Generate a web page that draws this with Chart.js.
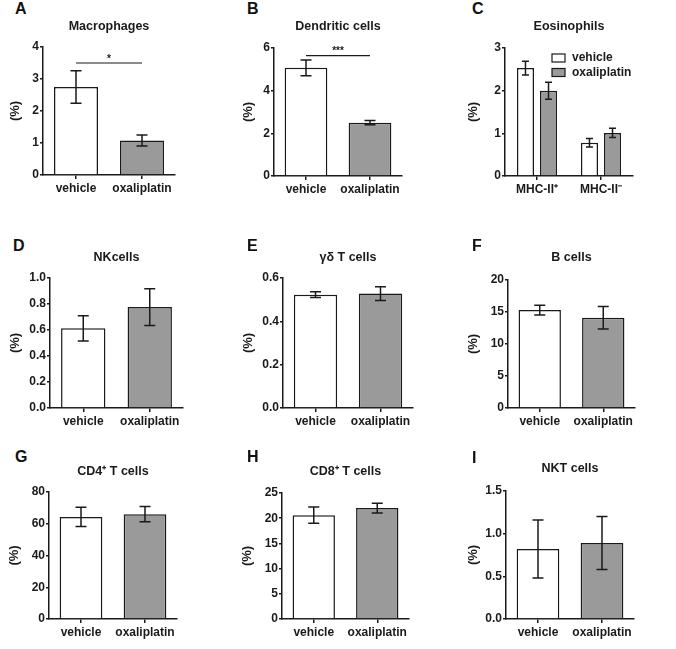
<!DOCTYPE html>
<html lang="en">
<head>
  <meta charset="UTF-8">
  <title>Immune cell populations</title>
  <script src="https://cdn.jsdelivr.net/npm/chart.js"></script>
  <style>
    body {
      margin: 0;
      background: #fff;
      font-family: 'Liberation Sans', Arial, sans-serif;
    }

    #page {
      position: relative;
      width: 676px;
      height: 649px;
      overflow: hidden;
    }

    #page canvas {
      position: absolute;
    }

    .letter {
      position: absolute;
      font-size: 16px;
      line-height: 16px;
      font-weight: bold;
      color: #111;
    }
  </style>
</head>
<body>

<div id="page"></div>

<script>
  // values (mean and error, in %)
  var groups = ['vehicle', 'oxaliplatin'];

  var macrophages = [2.75, 1.08];
  var macrophagesErr = [0.51, 0.17];

  var dendritic = [5.07, 2.50];
  var dendriticErr = [0.37, 0.10];

  var eosCategories = ['MHC-II\u207A', 'MHC-II\u207B'];
  var eosVehicle = [2.53, 0.78];
  var eosVehicleErr = [0.16, 0.10];
  var eosOxali = [2.00, 1.01];
  var eosOxaliErr = [0.20, 0.11];

  var nkCells = [0.613, 0.776];
  var nkCellsErr = [0.097, 0.142];

  var gdTCells = [0.523, 0.528];
  var gdTCellsErr = [0.013, 0.032];

  var bCells = [15.3, 14.1];
  var bCellsErr = [0.76, 1.75];

  var cd4Cells = [64.3, 66.0];
  var cd4CellsErr = [6.1, 4.8];

  var cd8Cells = [20.6, 22.0];
  var cd8CellsErr = [1.6, 0.95];

  var nktCells = [0.82, 0.89];
  var nktCellsErr = [0.34, 0.31];

  // y axis ticks per panel A..I
  var yMax = [4, 6, 3, 1.0, 0.6, 20, 80, 25, 1.5];
  var yStep = [1, 2, 1, 0.2, 0.2, 5, 20, 5, 0.5];
  var yDecimals = [0, 0, 0, 1, 1, 0, 0, 0, 1];

  var titles = ['Macrophages', 'Dendritic cells', 'Eosinophils', 'NKcells', '\u03B3\u03B4 T cells',
                'B cells', 'CD4\u207A T cells', 'CD8\u207A T cells', 'NKT cells'];

  var WHITE = '#ffffff';
  var GREY = '#9a9a9a';
  var INK = '#1a1a1a';

  Chart.defaults.font.family = "'Liberation Sans', Arial, sans-serif";
  Chart.defaults.font.weight = 'bold';
  Chart.defaults.font.size = 12;
  Chart.defaults.color = INK;

  // mean +/- error whiskers, drawn through the y scale
  var errorBars = {
    id: 'errorBars',
    afterDatasetsDraw: function(chart, args, opts) {
      var ctx = chart.ctx;
      var y = chart.scales.y;
      var cap = opts.cap || 6;
      chart.data.datasets.forEach(function(ds, i) {
        var meta = chart.getDatasetMeta(i);
        meta.data.forEach(function(bar, j) {
          var m = ds.data[j], e = ds.errors[j];
          var top = y.getPixelForValue(m + e);
          var bot = y.getPixelForValue(m - e);
          ctx.save();
          ctx.strokeStyle = INK;
          ctx.lineWidth = 1.5;
          ctx.beginPath();
          ctx.moveTo(bar.x, top); ctx.lineTo(bar.x, bot);
          ctx.moveTo(bar.x - cap, top); ctx.lineTo(bar.x + cap, top);
          ctx.moveTo(bar.x - cap, bot); ctx.lineTo(bar.x + cap, bot);
          ctx.stroke();
          ctx.restore();
        });
      });
    }
  };

  // significance line between the two groups
  var signif = {
    id: 'signif',
    afterDatasetsDraw: function(chart, args, opts) {
      if (!opts.text) return;
      var ctx = chart.ctx;
      var x1 = chart.scales.x.getPixelForValue(0);
      var x2 = chart.scales.x.getPixelForValue(1);
      var yy = chart.scales.y.getPixelForValue(opts.value);
      ctx.save();
      ctx.strokeStyle = INK;
      ctx.lineWidth = 1.2;
      ctx.beginPath();
      ctx.moveTo(x1, yy); ctx.lineTo(x2, yy);
      ctx.stroke();
      ctx.fillStyle = INK;
      ctx.font = "bold 10px 'Liberation Sans', Arial, sans-serif";
      ctx.textAlign = 'center';
      ctx.textBaseline = 'middle';
      ctx.fillText(opts.text, (x1 + x2) / 2, yy - 4);
      ctx.restore();
    }
  };

  // small legend inside the plot (panel C)
  var boxLegend = {
    id: 'boxLegend',
    afterDraw: function(chart, args, opts) {
      if (!opts.show) return;
      var ctx = chart.ctx;
      var a = chart.chartArea;
      ctx.save();
      chart.data.datasets.forEach(function(ds, i) {
        var bx = a.left + 47, by = a.top + 6 + i * 14.5;
        ctx.fillStyle = ds.backgroundColor;
        ctx.fillRect(bx, by, 13, 8);
        ctx.strokeStyle = INK;
        ctx.lineWidth = 1.2;
        ctx.strokeRect(bx, by, 13, 8);
        ctx.fillStyle = INK;
        ctx.font = "bold 12px 'Liberation Sans', Arial, sans-serif";
        ctx.textBaseline = 'middle';
        ctx.fillText(ds.label, bx + 20, by + 4);
      });
      ctx.restore();
    }
  };

  // canvas box and plot area in page pixels
  var panels = [
    { letter: 'A', x0: 0,   y0: 0,   w: 225, h: 210, area: [43, 47, 175, 175],  titleY: 27,  yTitleX: 15,  lx: 15,  ly: 1 },
    { letter: 'B', x0: 225, y0: 0,   w: 225, h: 210, area: [274, 48, 402, 176], titleY: 27,  yTitleX: 248, lx: 247, ly: 1 },
    { letter: 'C', x0: 450, y0: 0,   w: 226, h: 210, area: [505, 48, 633, 176], titleY: 27,  yTitleX: 473, lx: 472, ly: 1 },
    { letter: 'D', x0: 0,   y0: 205, w: 225, h: 235, area: [50, 278, 183, 408], titleY: 258, yTitleX: 15,  lx: 13,  ly: 238 },
    { letter: 'E', x0: 225, y0: 205, w: 225, h: 235, area: [283, 278, 413, 408],titleY: 258, yTitleX: 248, lx: 247, ly: 238 },
    { letter: 'F', x0: 450, y0: 205, w: 226, h: 235, area: [508, 280, 635, 408],titleY: 258, yTitleX: 473, lx: 472, ly: 238 },
    { letter: 'G', x0: 0,   y0: 430, w: 225, h: 219, area: [49, 492, 177, 619], titleY: 472, yTitleX: 14,  lx: 15,  ly: 449 },
    { letter: 'H', x0: 225, y0: 430, w: 225, h: 219, area: [282, 493, 409, 619],titleY: 472, yTitleX: 247, lx: 247, ly: 449 },
    { letter: 'I', x0: 450, y0: 430, w: 226, h: 219, area: [506, 491, 634, 619],titleY: 469, yTitleX: 473, lx: 472, ly: 450 }
  ];

  function twoBars(means, errs) {
    return {
      labels: groups,
      datasets: [{
        label: '(%)',
        data: means,
        errors: errs,
        backgroundColor: [WHITE, GREY],
        borderColor: INK,
        borderWidth: 1.5,
        barPercentage: 0.667,
        categoryPercentage: 1
      }]
    };
  }

  var panelData = [
    twoBars(macrophages, macrophagesErr),
    twoBars(dendritic, dendriticErr),
    {
      labels: eosCategories,
      datasets: [
        { label: 'vehicle', data: eosVehicle, errors: eosVehicleErr, backgroundColor: WHITE,
          borderColor: INK, borderWidth: 1.5, barPercentage: 0.74, categoryPercentage: 0.72 },
        { label: 'oxaliplatin', data: eosOxali, errors: eosOxaliErr, backgroundColor: GREY,
          borderColor: INK, borderWidth: 1.5, barPercentage: 0.74, categoryPercentage: 0.72 }
      ]
    },
    twoBars(nkCells, nkCellsErr),
    twoBars(gdTCells, gdTCellsErr),
    twoBars(bCells, bCellsErr),
    twoBars(cd4Cells, cd4CellsErr),
    twoBars(cd8Cells, cd8CellsErr),
    twoBars(nktCells, nktCellsErr)
  ];

  var significance = [
    { value: 3.5, text: '*' },
    { value: 5.64, text: '***' },
    {}, {}, {}, {}, {}, {}, {}
  ];

  var page = document.getElementById('page');

  panels.forEach(function(p, k) {
    var letter = document.createElement('div');
    letter.className = 'letter';
    letter.textContent = p.letter;
    letter.style.left = p.lx + 'px';
    letter.style.top = p.ly + 'px';
    page.appendChild(letter);

    var canvas = document.createElement('canvas');
    canvas.width = p.w;
    canvas.height = p.h;
    canvas.style.left = p.x0 + 'px';
    canvas.style.top = p.y0 + 'px';
    page.appendChild(canvas);

    var titleLH = 12.5 * 1.2;
    var titleTop = p.titleY - p.y0 - titleLH / 2;
    var titleBottom = (p.area[1] - p.y0) - titleTop - titleLH;
    var yWidth = p.area[0] - p.x0;
    var xHeight = (p.y0 + p.h) - p.area[3];
    var yTitleLH = 13 * 1.2;
    var dec = yDecimals[k];

    new Chart(canvas.getContext('2d'), {
      type: 'bar',
      data: panelData[k],
      options: {
        responsive: false,
        animation: false,
        events: [],
        layout: { padding: { left: 0, top: 0, bottom: 0, right: p.x0 + p.w - p.area[2] } },
        scales: {
          x: {
            afterFit: function(s) { s.height = xHeight; },
            grid: { display: true, offset: false, drawOnChartArea: false, drawTicks: true,
                    tickLength: 4, color: INK, lineWidth: 1.5 },
            border: { display: true, color: INK, width: 1.5 },
            ticks: { padding: 2, color: INK, font: { size: 12, weight: 'bold' }, maxRotation: 0 }
          },
          y: {
            min: 0,
            max: yMax[k],
            afterFit: function(s) { s.width = yWidth; },
            grid: { display: true, drawOnChartArea: false, drawTicks: true,
                    tickLength: 3, color: INK, lineWidth: 1.5 },
            border: { display: true, color: INK, width: 1.5 },
            ticks: {
              stepSize: yStep[k],
              padding: 1,
              color: INK,
              font: { size: 12, weight: 'bold' },
              callback: function(v) { return Number(v).toFixed(dec); }
            },
            title: {
              display: true,
              text: '(%)',
              color: INK,
              font: { size: 13, weight: 'bold' },
              padding: { top: p.yTitleX - p.x0 - yTitleLH / 2, bottom: 0 }
            }
          }
        },
        plugins: {
          legend: { display: false },
          tooltip: { enabled: false },
          title: {
            display: true,
            text: titles[k],
            fullSize: false,
            color: INK,
            font: { size: 12.5, weight: 'bold' },
            padding: { top: titleTop, bottom: titleBottom }
          },
          errorBars: { cap: k === 2 ? 3.5 : 5.5 },
          signif: significance[k],
          boxLegend: { show: k === 2 }
        }
      },
      plugins: [errorBars, signif, boxLegend]
    });
  });
</script>

</body>
</html>
